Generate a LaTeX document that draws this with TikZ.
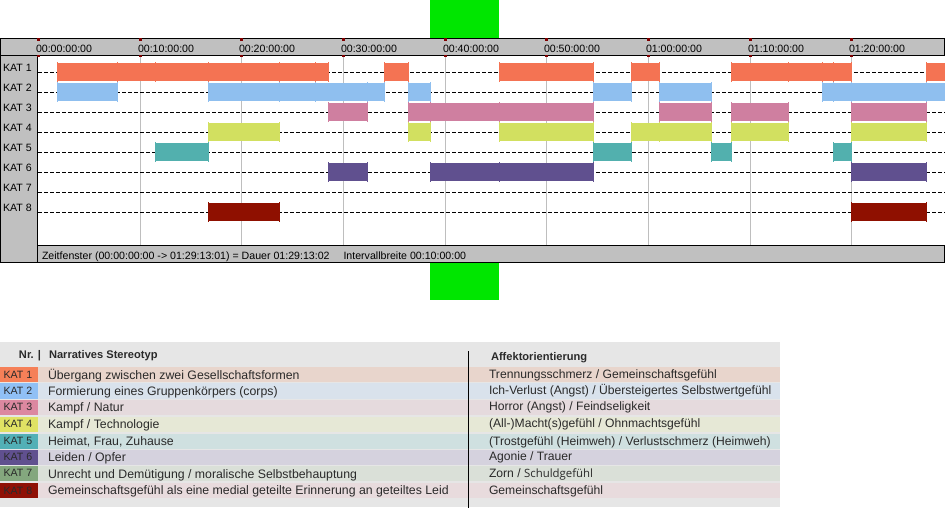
\documentclass[tikz,border=0pt]{standalone}
\usepackage{fontspec}
\setmainfont{Liberation Sans}
\newfontfamily\altfont{Open Sans}
\definecolor{hdrgray}{HTML}{C0C0C0}
\definecolor{gridgray}{HTML}{BEBEBE}
\definecolor{tickred}{HTML}{800000}
\definecolor{greenbar}{HTML}{00E600}
\definecolor{tablebg}{HTML}{E6E6E6}
\definecolor{katA}{HTML}{F47353}
\definecolor{katB}{HTML}{8FBFEF}
\definecolor{katC}{HTML}{CF7FA0}
\definecolor{katD}{HTML}{D2E060}
\definecolor{katE}{HTML}{52B0AE}
\definecolor{katF}{HTML}{60508F}
\definecolor{katH}{HTML}{8F1000}
\definecolor{keyA}{HTML}{F58058}
\definecolor{keyB}{HTML}{90C0F5}
\definecolor{keyC}{HTML}{DC88A0}
\definecolor{keyD}{HTML}{E0E264}
\definecolor{keyE}{HTML}{52B0B6}
\definecolor{keyF}{HTML}{60508F}
\definecolor{keyG}{HTML}{84A77E}
\definecolor{keyH}{HTML}{8F1005}
\definecolor{rowA}{HTML}{E8D5CC}
\definecolor{rowB}{HTML}{D9E2EC}
\definecolor{rowC}{HTML}{E5DADD}
\definecolor{rowD}{HTML}{E6E8D6}
\definecolor{rowE}{HTML}{CFE0E0}
\definecolor{rowF}{HTML}{D5D2DE}
\definecolor{rowG}{HTML}{DAE0D8}
\definecolor{rowH}{HTML}{E8DBDD}
\definecolor{tabletext}{HTML}{2A2A2A}
\newcommand{\seg}[5]{%
  \foreach \t in {#5} {\draw[#2,line width=1pt] (\t,#1-1) -- (\t,#1+19);}%
  \fill[#2] (#3,#1) rectangle (#4,#1+18);
}
\tikzset{
  chartlabel/.style={anchor=base west,inner sep=0pt,outer sep=0pt,font=\fontsize{10.6}{12}\selectfont,text=black},
  tablelabel/.style={anchor=base west,inner sep=0pt,outer sep=0pt,font=\fontsize{12.3}{14}\selectfont,text=tabletext},
  affektlabel/.style={anchor=base west,inner sep=0pt,outer sep=0pt,font=\fontsize{12.15}{14}\selectfont,text=tabletext},
  keylabel/.style={anchor=base west,inner sep=0pt,outer sep=0pt,font=\fontsize{10.6}{12}\selectfont,text=tabletext},
  headlabel/.style={anchor=base west,inner sep=0pt,outer sep=0pt,font=\fontsize{11.1}{13}\selectfont\bfseries,text=tabletext},
  framerule/.style={draw=black,line width=1pt},
  rowdash/.style={draw=black,line width=1pt,dash pattern=on 4pt off 2pt},
  gridrule/.style={draw=gridgray,line width=1pt}
}
\begin{document}
\begin{tikzpicture}[x=1pt,y=-1pt]
\useasboundingbox (0,0) rectangle (945,530);
\fill[white] (0,0) rectangle (945,530);
% green bands
\fill[greenbar] (430,0) rectangle (499,38);
\fill[greenbar] (430,263) rectangle (499,300);
% chart panels
\fill[hdrgray] (0.5,38.5) rectangle (944.5,55.5);
\fill[hdrgray] (0.5,38.5) rectangle (37.5,262);
\fill[hdrgray] (37.5,245.5) rectangle (944.5,262);
% grid
\foreach \x in {140.5,241.5,343.5,445.5,546.5,648.5,750.5,851.5}
  \draw[gridrule] (\x,55.5) -- (\x,245.5);
\foreach \y in {72.5,92.5,112.5,132.5,152.5,172.5,192.5,212.5}
  \draw[rowdash] (38,\y) -- (945,\y);
% KAT 1
\seg{63}{katA}{57}{329}{57.5,117.5,155.5,208.5,279.5,315.5,328.5}
\seg{63}{katA}{384}{409}{384.5,408.5}
\seg{63}{katA}{499}{594}{499.5,593.5}
\seg{63}{katA}{631}{660}{631.5,659.5}
\seg{63}{katA}{731}{852}{731.5,788.5,822.5,833.5,851.5}
\seg{63}{katA}{926}{945}{926.5}
% KAT 2
\seg{83}{katB}{57}{118}{57.5,117.5}
\seg{83}{katB}{208}{385}{208.5,279.5,315.5,367.5,384.5}
\seg{83}{katB}{408}{431}{408.5,430.5}
\seg{83}{katB}{593}{632}{593.5,631.5}
\seg{83}{katB}{659}{712}{659.5,711.5}
\seg{83}{katB}{822}{945}{822.5,833.5,851.5,926.5}
% KAT 3
\seg{103}{katC}{328}{368}{328.5,367.5}
\seg{103}{katC}{408}{594}{408.5,430.5,499.5,593.5}
\seg{103}{katC}{659}{712}{659.5,711.5}
\seg{103}{katC}{731}{788}{731.5,788.5}
\seg{103}{katC}{851}{927}{851.5,926.5}
% KAT 4
\seg{123}{katD}{208}{280}{208.5,279.5}
\seg{123}{katD}{408}{431}{408.5,430.5}
\seg{123}{katD}{499}{594}{499.5,593.5}
\seg{123}{katD}{631}{712}{631.5,659.5,711.5}
\seg{123}{katD}{731}{788}{731.5,788.5}
\seg{123}{katD}{851}{927}{851.5,926.5}
% KAT 5
\seg{143}{katE}{155}{209}{155.5,208.5}
\seg{143}{katE}{593}{632}{593.5,631.5}
\seg{143}{katE}{711}{732}{711.5,731.5}
\seg{143}{katE}{833}{852}{833.5,851.5}
% KAT 6
\seg{163}{katF}{328}{368}{328.5,367.5}
\seg{163}{katF}{430}{594}{430.5,499.5,593.5}
\seg{163}{katF}{851}{927}{851.5,926.5}
% KAT 8
\seg{203}{katH}{208}{280}{208.5,279.5}
\seg{203}{katH}{851}{927}{851.5,926.5}
% frame rules
\draw[framerule] (0.5,55.5) -- (0.5,38.5) -- (944.5,38.5) -- (944.5,55.5) -- cycle;
\draw[framerule] (0.5,55.5) -- (0.5,262) -- (944.5,262) -- (944.5,245.5) -- (37.5,245.5);
\draw[framerule] (37.5,55.5) -- (37.5,262);
% ticks and time labels
\foreach \x/\lab [count=\i] in {38.5/00:00:00:00,140.5/00:10:00:00,241.5/00:20:00:00,343.5/00:30:00:00,445.5/00:40:00:00,546.5/00:50:00:00,648.5/01:00:00:00,750.5/01:10:00:00,851.5/01:20:00:00} {
  \fill[tickred] (\x-1.5,38) rectangle (\x+1.5,41);
  \fill[tickred] (\x-1.5,55) rectangle (\x+1.5,57);
  \node[chartlabel] (time\i) at (\x-2.5,52) {\lab};
}
% category labels
\foreach \i/\y in {1/71,2/91,3/111,4/131,5/151,6/171,7/191,8/211}
  \node[chartlabel] (cat\i) at (3,\y) {KAT \i};
% status line
\node[chartlabel] (status) at (42,259.5) {Zeitfenster (00:00:00:00 -> 01:29:13:01) = Dauer 01:29:13:02};
\node[chartlabel] (interval) at (343.5,259.5) {Intervallbreite 00:10:00:00};
% table
\fill[tablebg] (0,342) rectangle (780,507);
\foreach \top/\bot/\r/\k in {367/382/rowA/keyA,383/398.5/rowB/keyB,399.5/414.7/rowC/keyC,417/432.3/rowD/keyD,433.7/449/rowE/keyE,450/465/rowF/keyF,466/481/rowG/keyG,483/498/rowH/keyH} {
  \fill[\r] (0,\top) rectangle (780,\bot);
  \fill[\k] (0,\top) rectangle (38,\bot);
}
\draw[black,line width=1pt] (468.5,351) -- (468.5,508);
\node[headlabel] (nr) at (19,358) {Nr. |};
\node[headlabel] (narr) at (49,358) {Narratives Stereotyp};
\node[headlabel] (affekt) at (491,360) {Affektorientierung};
\foreach \i/\y in {1/378,2/394,3/410.7,4/427.7,5/444.7,6/460.7,7/476.7,8/494}
  \node[keylabel] (key\i) at (3.5,\y) {KAT \i};
\node[tablelabel] (nA) at (48,379) {Übergang zwischen zwei Gesellschaftsformen};
\node[tablelabel] (nB) at (48,395) {Formierung eines Gruppenkörpers (corps)};
\node[tablelabel] (nC) at (48,411.3) {Kampf / Natur};
\node[tablelabel] (nD) at (48,428.7) {Kampf / Technologie};
\node[tablelabel] (nE) at (48,445.3) {Heimat, Frau, Zuhause};
\node[tablelabel] (nF) at (48,461.7) {Leiden / Opfer};
\node[tablelabel] (nG) at (48,478) {Unrecht und Demütigung / moralische Selbstbehauptung};
\node[tablelabel] (nH) at (48,494.7) {Gemeinschaftsgefühl als eine medial geteilte Erinnerung an geteiltes Leid};
\node[affektlabel] (aA) at (489,378.3) {Trennungsschmerz / Gemeinschaftsgefühl};
\node[affektlabel] (aB) at (489,394) {Ich-Verlust (Angst) / Übersteigertes Selbstwertgefühl};
\node[affektlabel] (aC) at (489,410.7) {Horror (Angst) / Feindseligkeit};
\node[affektlabel] (aD) at (489,427.7) {(All-)Macht(s)gefühl / Ohnmachtsgefühl};
\node[affektlabel] (aE) at (489,445) {(Trostgefühl (Heimweh) / Verlustschmerz (Heimweh)};
\node[affektlabel] (aF) at (489,460.7) {Agonie / Trauer};
\node[affektlabel] (aG) at (489,477) {Zorn / {\altfont\fontsize{11.4}{12}\selectfont Schuldgefühl}};
\node[affektlabel] (aH) at (489,494) {Gemeinschaftsgefühl};
\end{tikzpicture}
\end{document}
